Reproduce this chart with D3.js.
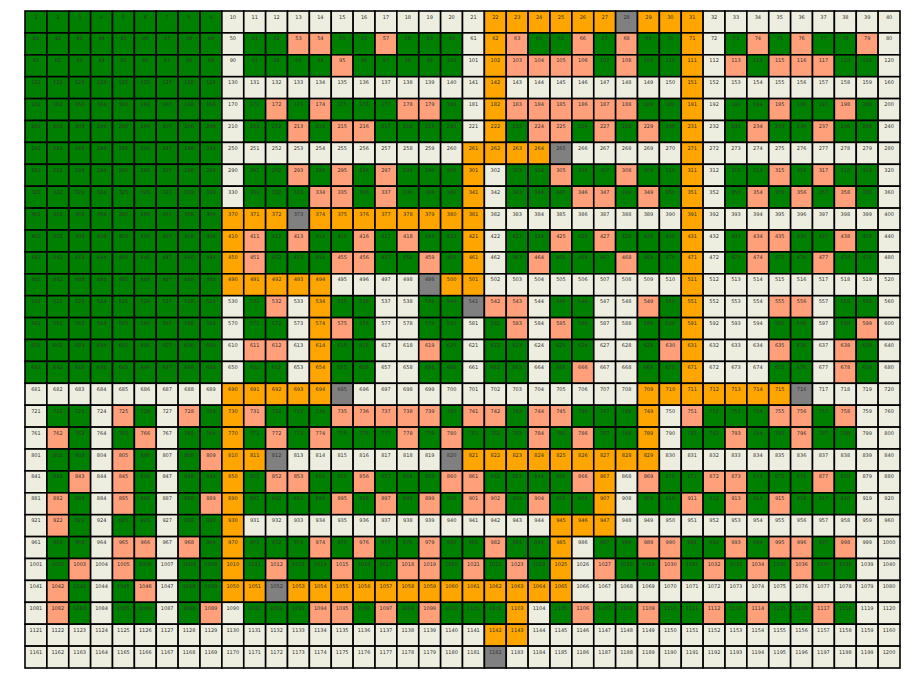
<!DOCTYPE html>
<html>
<head>
<meta charset="utf-8">
<script src="https://cdn.jsdelivr.net/npm/d3@7"></script>
<style>
  body { margin: 0; background: #fff; }
</style>
</head>
<body>
<div id="chart"></div>
<script>
// Grid status per row, 40 cells each.
// G = green, S = salmon, O = orange, X = gray, B = beige
const rowCodes = [
  "GGGGGGGGGBBBBBBBBBBBBOOOOOOXOOOBBBBBBBBB",
  "GGGGGGGGGBGGSSGGSGGGBOSGGSGSGGOBGSGSGGSB",
  "GGGGGGGGGBGGGGSGGGGGBOSSSSGSGGOBSGSSSGGB",
  "GGGGGGGGGBBBBBBBBBBBBOBBBBBBBBOBBBBBBBBB",
  "GGGGGGGGGBGSGSGGGSSGBOSSSSSSGGOBGGSGGSGB",
  "GGGGGGGGGBGGSGSSGGGGBOGSSGSGSGOBGSGGSGGB",
  "GGGGGGGGGBBBBBBBBBBBOOOOXBBBBBOBBBBBBBBB",
  "GGGGGGGGGBGGSGSGSGGGOBGGSGGSGGOBGGSGSGGB",
  "GGGGGGGGGBGGGSSGSGGGOBGGGSSGSGOBGSGSGSGB",
  "GGGGGGGGGOOOXOOOOOOOOBBBBBBBBBOBBBBBBBBB",
  "GGGGGGGGGOSGSGGSGSGGOBGGSGSGGGOBGSSGGSGB",
  "GGGGGGGGGOSGGGSSGGSGOBGSGGGSGGOBGSGGSGGB",
  "GGGGGGGGGOOOOOBBBBXOOBBBBBBBBBOBBBBBBBBB",
  "GGGGGGGGGBGSBOGGBBGGXSSBGGBBSGOBBBSSBGGB",
  "GGGGGGGGGBGGBOSGBBGGBGSBSGBBGGOBBBGGBGSB",
  "GGGGGGGGGBSSBOGGBBSGBGGBGGBBGSOBBBSGBSGB",
  "GGGGGGGGGBGGBOGGBBGGBGGBGSBBGGOBBBGGBSGB",
  "BBBBBBBBBOOOOOXBBBBBBBBBBBBBOOOOOOOXBBBB",
  "BGGBSGBSGOSGGGSSSSSGSSGSSGGGOBSGGGSSGSBB",
  "BSGBGSBGGOGSGSGGGSGSGGGSGSGGOBGGSGGSGGBB",
  "BGGBSGBGSOOXBBBBBBBXOOOOOOOOOBBBBBBBBBBB",
  "BGSBSGBGGOGSSGGSGGGSSGGGGSOBSGGSSGGGSGBB",
  "BSGBSGBGSOGGGGSGSGSGSSGSGGOBGGSGSGSGGGBB",
  "BSGBGGBGGOBBBBBBBBBBBBBBOOOBBBBBBBBBBBBB",
  "BGGBSSBSGOGGGSGSGGSGGSGGOBGGSSGGSGSSGSBB",
  "BGSBSGBGGOGSGGSGGSSGSGSGOBSGGSGSGSGSGGBB",
  "BSGBGSBGGOOXOOOOOOOOOOOOOBBBBBBBBBBBBBBB",
  "BSGBGGBGSBGGGSSGSGSGGGOBGSGGSGGSGSGGSGBB",
  "BBBBBBBBBBBBBBBBBBBBBOOBBBBBBBBBBBBBBBBB",
  "BBBBBBBBBBBBBBBBBBBBBXBBBBBBBBBBBBBBBBBB"
];

const statusKeys = ["G", "S", "O", "X", "B"];
const statusColors = ["#008000", "#ffa07a", "#ffa500", "#808080", "#eeeee0"];

const nCols = 40;
const nRows = rowCodes.length;

const width = 913, height = 678;
const margin = {top: 11, right: 13, bottom: 10, left: 25};

const cells = [];
rowCodes.forEach((row, r) => {
  row.split("").forEach((code, c) => {
    cells.push({ id: r * nCols + c + 1, row: r, col: c, code: code });
  });
});

const svg = d3.select("#chart")
  .append("svg")
  .attr("width", width)
  .attr("height", height);

const x = d3.scaleBand()
  .domain(d3.range(nCols))
  .range([margin.left, width - margin.right])
  .padding(0);

const y = d3.scaleBand()
  .domain(d3.range(nRows))
  .range([margin.top, height - margin.bottom])
  .padding(0);

const color = d3.scaleOrdinal()
  .domain(statusKeys)
  .range(statusColors);

const g = svg.append("g");

const cell = g.selectAll(".cell")
  .data(cells)
  .enter()
  .append("g")
  .attr("class", "cell")
  .attr("transform", d => "translate(" + x(d.col) + "," + y(d.row) + ")");

cell.append("rect")
  .attr("width", x.bandwidth())
  .attr("height", y.bandwidth())
  .style("fill", d => color(d.code))
  .style("stroke", "#000")
  .style("stroke-width", 1.6);

cell.append("text")
  .attr("x", x.bandwidth() / 2)
  .attr("y", 7.5)
  .attr("text-anchor", "middle")
  .style("font-family", "DejaVu Sans, sans-serif")
  .style("font-size", "5px")
  .style("fill", "#333")
  .text(d => d.id);
</script>
</body>
</html>
